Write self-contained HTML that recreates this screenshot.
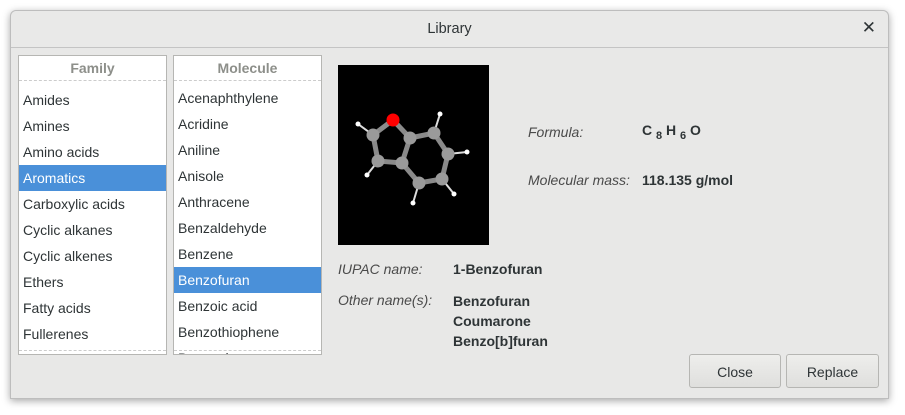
<!DOCTYPE html>
<html><head><style>
body{margin:0;width:905px;height:415px;background:#fff;font-family:"Liberation Sans","DejaVu Sans",sans-serif;position:relative;overflow:hidden}
.win{position:absolute;left:10px;top:10px;width:877px;height:387px;background:#e8e8e7;border:1px solid #bdbdbd;border-radius:6px 6px 0 0;box-shadow:0 2px 8px rgba(0,0,0,.35)}
.title{position:absolute;left:0;top:0;width:877px;height:36px;border-bottom:1px solid #c4c4c4;background:#e9e9e8;border-radius:6px 6px 0 0}
.title span{position:absolute;left:0;width:100%;top:10px;text-align:center;font-size:14.5px;color:#2e3436}
.x{position:absolute;right:12px;top:7px;font-size:17px;font-weight:bold;color:#2e3436}
.list{position:absolute;top:55px;width:147px;height:298px;background:#fff;border:1px solid #b6b6b3;overflow:hidden;font-size:14px;color:#2e3436}
.hd{height:24px;line-height:24px;text-align:center;color:#8d8f8a;font-weight:bold;border-bottom:1px dashed #ccc}
.row{position:absolute;left:0;width:100%;height:26px;line-height:26px;padding-left:4px;box-sizing:border-box}
.sel{background:#4a90d9;color:#fff}
.lbl{position:absolute;font-size:14px;color:#2e3436}
.it{font-style:italic;color:#4a4a4a}
.b{font-weight:bold}
.btn{position:absolute;top:354px;height:34px;line-height:34px;text-align:center;font-size:14px;color:#2e3436;border:1px solid #b6b6b3;border-radius:3px;background:linear-gradient(#eeeeec,#dfdfdd);box-sizing:border-box}
</style></head><body>
<div class="win"><div class="title"><span>Library</span><div class="x">✕</div></div></div>
<div class="list" style="left:18px">
<div class="hd">Family</div>
<div class="row" style="top:31px">Amides</div>
<div class="row" style="top:57px">Amines</div>
<div class="row" style="top:83px">Amino acids</div>
<div class="row sel" style="top:109px">Aromatics</div>
<div class="row" style="top:135px">Carboxylic acids</div>
<div class="row" style="top:161px">Cyclic alkanes</div>
<div class="row" style="top:187px">Cyclic alkenes</div>
<div class="row" style="top:213px">Ethers</div>
<div class="row" style="top:239px">Fatty acids</div>
<div class="row" style="top:265px">Fullerenes</div>
<div style="position:absolute;left:0;right:0;top:294px;border-top:1px dashed #ccc"></div>
</div>
<div class="list" style="left:173px">
<div class="hd">Molecule</div>
<div class="row" style="top:29px">Acenaphthylene</div>
<div class="row" style="top:55px">Acridine</div>
<div class="row" style="top:81px">Aniline</div>
<div class="row" style="top:107px">Anisole</div>
<div class="row" style="top:133px">Anthracene</div>
<div class="row" style="top:159px">Benzaldehyde</div>
<div class="row" style="top:185px">Benzene</div>
<div class="row sel" style="top:211px">Benzofuran</div>
<div class="row" style="top:237px">Benzoic acid</div>
<div class="row" style="top:263px">Benzothiophene</div>
<div class="row" style="top:289px">Benzophenone</div>
<div style="position:absolute;left:0;right:0;top:294px;border-top:1px dashed #ccc"></div>
</div>
<svg style="position:absolute;left:338px;top:65px" width="151" height="180" viewBox="338 65 151 180">
<rect x="338" y="65" width="151" height="180" fill="#000"/>
<g stroke="#ddd" stroke-width="2"><line x1="358" y1="124" x2="373" y2="135"/><line x1="367" y1="175" x2="378" y2="161"/><line x1="440" y1="114" x2="434" y2="133"/><line x1="467" y1="152" x2="448" y2="154"/><line x1="454" y1="194" x2="442" y2="179"/><line x1="413" y1="203" x2="419" y2="183"/></g>
<g stroke="#8a8a8a" stroke-width="5" fill="none"><polyline points="393,120 373,135 378,161 402,163 410,138 393,120"/><polyline points="410,138 434,133 448,154 442,179 419,183 402,163"/></g>
<g fill="#fff"><circle cx="358" cy="124" r="2.5"/><circle cx="367" cy="175" r="2.5"/><circle cx="440" cy="114" r="2.5"/><circle cx="467" cy="152" r="2.5"/><circle cx="454" cy="194" r="2.5"/><circle cx="413" cy="203" r="2.5"/></g>
<g fill="#9a9a9a"><circle cx="373" cy="135" r="6.5"/><circle cx="378" cy="161" r="6.5"/><circle cx="402" cy="163" r="6.5"/><circle cx="410" cy="138" r="6.5"/><circle cx="434" cy="133" r="6.5"/><circle cx="448" cy="154" r="6.5"/><circle cx="442" cy="179" r="6.5"/><circle cx="419" cy="183" r="6.5"/></g>
<circle cx="393" cy="120" r="6.5" fill="#f00"/>
</svg>
<div class="lbl it" style="left:528px;top:124px">Formula:</div>
<div class="lbl b" style="left:642px;top:122px">C <sub style="font-size:11px">8</sub> H <sub style="font-size:11px">6</sub> O</div>
<div class="lbl it" style="left:528px;top:172px">Molecular mass:</div>
<div class="lbl b" style="left:642px;top:172px">118.135 g/mol</div>
<div class="lbl it" style="left:338px;top:261px">IUPAC name:</div>
<div class="lbl b" style="left:453px;top:261px">1-Benzofuran</div>
<div class="lbl it" style="left:338px;top:292px">Other name(s):</div>
<div class="lbl b" style="left:453px;top:291px;line-height:20px">Benzofuran<br>Coumarone<br>Benzo[b]furan</div>
<div class="btn" style="left:689px;width:92px">Close</div>
<div class="btn" style="left:786px;width:93px">Replace</div>
</body></html>
